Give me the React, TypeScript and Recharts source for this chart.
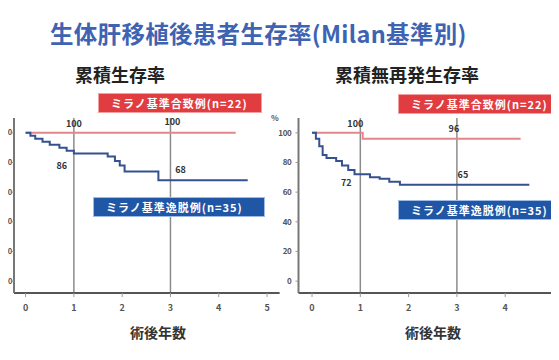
import React from 'react';
import { LineChart, Line, XAxis, YAxis, ReferenceLine, ReferenceDot } from 'recharts';

// Text content
const TITLE = '生体肝移植後患者生存率(Milan基準別)';
const PANEL_TITLES = ['累積生存率', '累積無再発生存率'];
const X_LABEL = '術後年数';
const GROUP_LABELS = ['ミラノ基準合致例(n=22)', 'ミラノ基準逸脱例(n=35)'];

// Axis ticks
const yearTicks = [0, 1, 2, 3, 4, 5];
const pctTicks = [0, 20, 40, 60, 80, 100];

// Overall survival (%), by years after transplant
const osWithin = [
  { t: 0, v: 100 },
  { t: 4.35, v: 100 },
];
const osBeyond = [
  { t: 0, v: 100 },
  { t: 0.1, v: 98 },
  { t: 0.2, v: 96 },
  { t: 0.35, v: 94 },
  { t: 0.5, v: 92 },
  { t: 0.7, v: 90 },
  { t: 0.85, v: 88 },
  { t: 1.0, v: 86 },
  { t: 1.7, v: 84 },
  { t: 1.85, v: 81 },
  { t: 1.95, v: 78 },
  { t: 2.05, v: 74 },
  { t: 2.75, v: 68 },
  { t: 4.6, v: 68 },
];

// Recurrence-free survival (%)
const rfsWithin = [
  { t: 0, v: 100 },
  { t: 1.05, v: 96 },
  { t: 4.32, v: 96 },
];
const rfsBeyond = [
  { t: 0, v: 100 },
  { t: 0.08, v: 96 },
  { t: 0.15, v: 91 },
  { t: 0.22, v: 85 },
  { t: 0.3, v: 83 },
  { t: 0.5, v: 81 },
  { t: 0.62, v: 78 },
  { t: 0.75, v: 75 },
  { t: 0.88, v: 72 },
  { t: 1.2, v: 70 },
  { t: 1.4, v: 69 },
  { t: 1.6, v: 67 },
  { t: 1.82, v: 65 },
  { t: 4.5, v: 65 },
];

// Annotated time points: group 0 = within criteria, 1 = beyond
const markTimes = [
  { t: 1, group: 0 },
  { t: 3, group: 0 },
  { t: 1, group: 1 },
  { t: 3, group: 1 },
];

type Pt = { t: number; v: number };

const valueAt = (series: Pt[], t: number) => {
  let v = series[0].v;
  for (const p of series) if (p.t <= t) v = p.v;
  return v;
};

const FONT = '"Noto Sans CJK JP", "Noto Sans", sans-serif';
const RED = '#e4878c';
const BLUE = '#35518f';
const Y_DOMAIN: [number, number] = [-8, 110];

type PanelProps = {
  within: Pt[];
  beyond: Pt[];
  offsets: [number, number][];
  xDomain: [number, number];
  width: number;
  yAxisWidth: number;
  marginRight: number;
  tickSize: number;
  labelGap: number;
  tickFont: number;
};

function Panel({
  within,
  beyond,
  offsets,
  xDomain,
  width,
  yAxisWidth,
  marginRight,
  tickSize,
  labelGap,
  tickFont,
}: PanelProps) {
  const groups = [within, beyond];
  return (
    <LineChart
      width={width}
      height={360}
      margin={{ top: 118, right: marginRight, bottom: 27, left: 0 }}
      style={{ fontFamily: FONT }}
    >
      <XAxis
        type="number"
        dataKey="t"
        domain={xDomain}
        ticks={yearTicks}
        allowDataOverflow
        height={40}
        tickSize={4}
        tickMargin={8}
        axisLine={{ stroke: '#555', strokeWidth: 2 }}
        tickLine={{ stroke: '#999' }}
        tick={{ fontSize: 9, fill: '#555', fontWeight: 700 }}
      />
      <YAxis
        type="number"
        domain={Y_DOMAIN}
        ticks={pctTicks}
        allowDataOverflow
        width={yAxisWidth}
        tickSize={tickSize}
        tickMargin={labelGap}
        axisLine={{ stroke: '#777', strokeWidth: 2 }}
        tickLine={{ stroke: '#999' }}
        tick={{ fontSize: tickFont, fill: '#555', fontWeight: 700, letterSpacing: -0.3 }}
      />
      <ReferenceLine x={1} stroke="#8c8c8c" strokeWidth={1.5} />
      <ReferenceLine x={3} stroke="#8c8c8c" strokeWidth={1.5} />
      <Line
        data={within}
        dataKey="v"
        type="stepAfter"
        stroke={RED}
        strokeWidth={2}
        dot={false}
        isAnimationActive={false}
      />
      <Line
        data={beyond}
        dataKey="v"
        type="stepAfter"
        stroke={BLUE}
        strokeWidth={2}
        dot={false}
        isAnimationActive={false}
      />
      {markTimes.map((m, i) => {
        const v = valueAt(groups[m.group], m.t);
        const [dx, dy] = offsets[i];
        return (
          <ReferenceDot
            key={i}
            x={m.t}
            y={v}
            r={0}
            shape={(p: any) => (
              <text
                x={p.cx + dx}
                y={p.cy + dy}
                textAnchor="middle"
                dominantBaseline="middle"
                fontSize={9}
                fontWeight={700}
                fill="#333"
                fontFamily={FONT}
              >
                {v}
              </text>
            )}
          />
        );
      })}
    </LineChart>
  );
}

const boxBase: React.CSSProperties = {
  position: 'absolute',
  height: 20,
  color: '#fff',
  fontSize: 11,
  fontWeight: 700,
  letterSpacing: 1,
  lineHeight: '18px',
  paddingLeft: 12,
  whiteSpace: 'nowrap',
  overflow: 'hidden',
  boxSizing: 'border-box',
};

const subTitle: React.CSSProperties = {
  position: 'absolute',
  top: 62,
  fontSize: 18,
  fontWeight: 700,
  color: '#222',
  lineHeight: '24px',
  whiteSpace: 'nowrap',
};

const axisTitle: React.CSSProperties = {
  position: 'absolute',
  top: 322,
  width: 70,
  textAlign: 'center',
  fontSize: 14,
  fontWeight: 700,
  color: '#333',
  lineHeight: '20px',
};

export default function App() {
  return (
    <div
      style={{
        position: 'relative',
        width: 559,
        height: 360,
        margin: -8,
        overflow: 'hidden',
        background: '#fff',
        fontFamily: FONT,
      }}
    >
      <div
        style={{
          position: 'absolute',
          left: 50,
          top: 18,
          fontSize: 23.5,
          fontWeight: 700,
          color: '#3d63b2',
          whiteSpace: 'nowrap',
          lineHeight: '30px',
          letterSpacing: 0.3,
        }}
      >
        {TITLE}
      </div>
      <div style={{ ...subTitle, left: 75 }}>{PANEL_TITLES[0]}</div>
      <div style={{ ...subTitle, left: 335 }}>{PANEL_TITLES[1]}</div>

      <div style={{ position: 'absolute', left: 0, top: 0 }}>
        <Panel
          within={osWithin}
          beyond={osBeyond}
          offsets={[[0, -8], [2, -10], [-12, 13], [10, -10]]}
          xDomain={[-0.24, 5.26]}
          width={290}
          yAxisWidth={14}
          marginRight={10.4}
          tickSize={2}
          labelGap={0}
          tickFont={7.5}
        />
      </div>
      <div style={{ position: 'absolute', left: 270, top: 0 }}>
        <Panel
          within={rfsWithin}
          beyond={rfsBeyond}
          offsets={[[-5, -8], [-3, -9], [-14, 9], [6, -9]]}
          xDomain={[-0.28, 5.22]}
          width={300}
          yAxisWidth={28.5}
          marginRight={5.9}
          tickSize={3}
          labelGap={4}
          tickFont={8}
        />
      </div>

      <div style={{ position: 'absolute', left: 271, top: 112, fontSize: 8, fontWeight: 700, color: '#555' }}>%</div>

      <div style={{ ...boxBase, left: 98, top: 93, width: 164, background: '#e13c3f', border: '1px solid #f3a0a0' }}>
        {GROUP_LABELS[0]}
      </div>
      <div style={{ ...boxBase, left: 93, top: 197, width: 172, background: '#1f56a6', border: '1px solid #9fbce6' }}>
        {GROUP_LABELS[1]}
      </div>
      <div style={{ ...boxBase, left: 398, top: 94, width: 170, background: '#e13c3f', border: '1px solid #f3a0a0' }}>
        {GROUP_LABELS[0]}
      </div>
      <div style={{ ...boxBase, left: 398, top: 200, width: 170, background: '#1f56a6', border: '1px solid #9fbce6' }}>
        {GROUP_LABELS[1]}
      </div>

      <div style={{ ...axisTitle, left: 123 }}>{X_LABEL}</div>
      <div style={{ ...axisTitle, left: 398 }}>{X_LABEL}</div>
    </div>
  );
}
